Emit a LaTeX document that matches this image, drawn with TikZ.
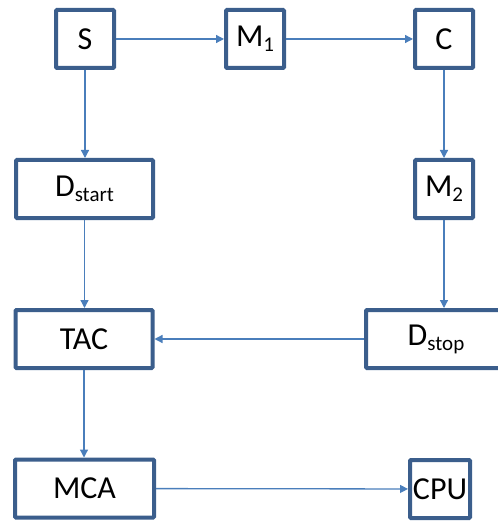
\documentclass[tikz,border=0pt]{standalone}
\usepackage{fontspec}
\setmainfont{Carlito}
\usetikzlibrary{arrows.meta,positioning}
\definecolor{boxblue}{RGB}{59,94,140}
\definecolor{arrblue}{RGB}{74,126,187}
\newcommand{\lowsub}[1]{\raisebox{-5pt}{\fontsize{21}{21}\selectfont #1}}
\tikzset{
  font=\fontsize{32}{36}\selectfont,
  blk/.style  ={draw=boxblue, line width=4pt, rounded corners=1pt, fill=white, inner sep=0pt, align=center},
  sq/.style   ={blk, minimum width=58pt, minimum height=58pt},
  wide/.style ={blk, minimum width=137pt, minimum height=58pt},
  arr/.style  ={-{Triangle[length=8pt,width=8pt]}, line width=1.3pt, arrblue},
}

\begin{document}
\begin{tikzpicture}[x=1pt, y=-1pt]
  \useasboundingbox (0,0) rectangle (497,521);
  % top row
  \node[sq] (s) at (85,39) {S};
  \node[sq] (m1) at (255,39) {M\lowsub{1}};
  \node[sq] (c) at (444,39) {C};
  % second row
  \node[wide] (dstart) at (84.5,189) {D\lowsub{start}};
  \node[sq] (m2) at (c |- dstart) {M\lowsub{2}};
  % third row
  \node[wide] (tac) at (84,339) {TAC};
  \node[wide, minimum width=140pt] (dstop) at (436,339) {D\lowsub{stop}};
  % bottom row
  \node[wide, minimum width=139pt] (mca) at (84.5,488.5) {MCA};
  \node[sq, minimum width=60pt] (cpu) at (440,489) {CPU};
  \draw[arr] (s) -- (m1);
  \draw[arr] (m1) -- (c);
  \draw[arr] (s) -- (s |- dstart.north);
  \draw[arr] (c) -- (m2);
  \draw[arr] (dstart) -- (dstart |- tac.north);
  \draw[arr] (m2) -- (m2 |- dstop.north);
  \draw[arr] (dstop) -- (tac);
  \draw[arr] (tac) -- (tac |- mca.north);
  \draw[arr] (mca) -- (cpu);
\end{tikzpicture}
\end{document}
